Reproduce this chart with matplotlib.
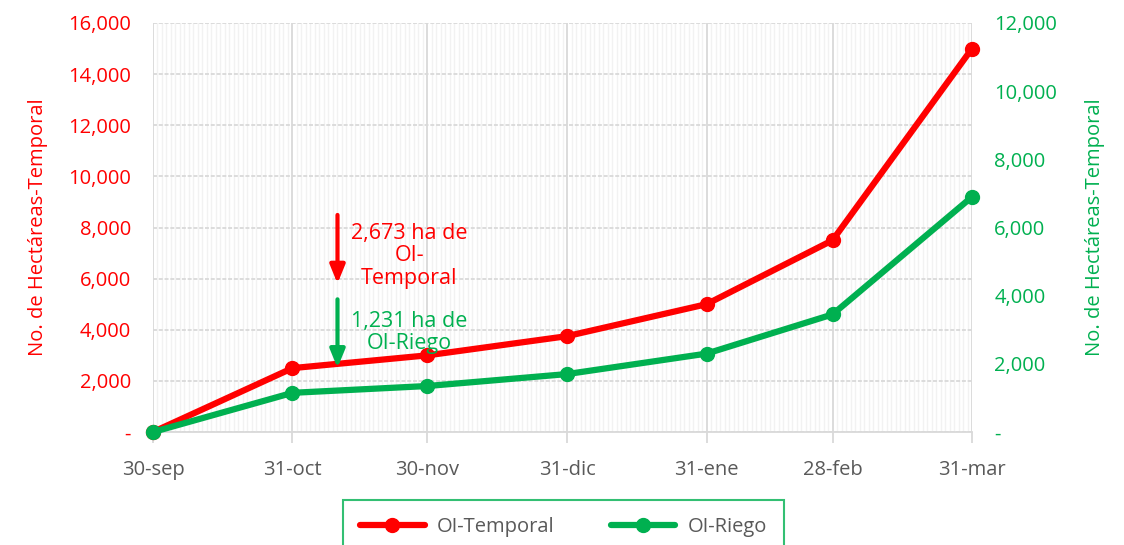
import matplotlib.pyplot as plt
import matplotlib.dates as mdates
from matplotlib.ticker import FuncFormatter, MultipleLocator
import datetime as dt

plt.rcParams['font.family'] = ['Open Sans', 'DejaVu Sans']

# data
fechas = ['2020-09-30', '2020-10-31', '2020-11-30', '2020-12-31',
          '2021-01-31', '2021-02-28', '2021-03-31']
etiquetas = ['30-sep', '31-oct', '30-nov', '31-dic', '31-ene', '28-feb', '31-mar']
temporal = [0, 2500, 3000, 3750, 5000, 7500, 15000]
riego = [0, 1150, 1350, 1700, 2300, 3450, 6900]

nota_fecha = '2020-11-10'
nota_temporal = '2,673 ha de\nOI-\nTemporal'
nota_riego = '1,231 ha de\nOI-Riego'

RED = '#FF0000'
GREEN = '#00B050'
GREY = '#595959'

x = [dt.datetime.strptime(f, '%Y-%m-%d') for f in fechas]
xn = mdates.date2num(x)

fig = plt.figure(figsize=(11.24, 5.45), dpi=100)
ax = fig.add_axes([0.1361, 0.2073, 0.7287, 0.7505])
ax2 = ax.twinx()

def miles(v, pos):
    if v == 0:
        return '-'
    return '{:,.0f}'.format(v)

# grid
ax.set_xlim(xn[0], xn[-1])
ax.set_ylim(0, 16000)
ax2.set_ylim(0, 12000)
ax.set_xticks(xn)
ax.set_xticklabels(etiquetas)
ax.xaxis.set_minor_locator(MultipleLocator(1))
ax.yaxis.set_major_locator(MultipleLocator(2000))
ax2.yaxis.set_major_locator(MultipleLocator(2000))
ax.yaxis.set_major_formatter(FuncFormatter(miles))
ax2.yaxis.set_major_formatter(FuncFormatter(miles))

ax.grid(which='minor', axis='x', color='#F2F2F2', lw=1.0)
ax.grid(which='major', axis='x', color='#D9D9D9', lw=1.3)
ax.grid(which='major', axis='y', color='#D9D9D9', lw=1.3, linestyle=(0, (2.2, 1.0)))
ax.set_axisbelow(True)

for a in (ax, ax2):
    for s in a.spines.values():
        s.set_visible(False)
ax.spines['bottom'].set_visible(True)
ax.spines['bottom'].set_color('#D9D9D9')
ax.spines['bottom'].set_linewidth(1.3)

ax.tick_params(axis='x', which='major', length=8, color='#D9D9D9', width=1.3,
               labelsize=14.5, labelcolor=GREY, pad=12)
ax.tick_params(axis='x', which='minor', length=0)
ax.tick_params(axis='y', length=0, labelsize=14.5, labelcolor=RED, pad=16)
ax2.tick_params(axis='y', length=0, labelsize=14.5, labelcolor=GREEN, pad=16)

l1, = ax.plot(xn, temporal, color=RED, lw=4.5, marker='o', ms=10,
              solid_capstyle='round', label='OI-Temporal', clip_on=False)
l2, = ax2.plot(xn, riego, color=GREEN, lw=4.5, marker='o', ms=10,
               solid_capstyle='round', label='OI-Riego', clip_on=False)

ax.set_ylabel('No. de Hectáreas-Temporal', color=RED, fontsize=14.5, labelpad=14)
ax2.set_ylabel('No. de Hectáreas-Temporal', color=GREEN, fontsize=14.5, labelpad=20)

# annotations
xa = mdates.date2num(dt.datetime.strptime(nota_fecha, '%Y-%m-%d'))
xt = xa + 16
ax.annotate('', xy=(xa, 5700), xytext=(xa, 8600),
            arrowprops=dict(arrowstyle='-|>,head_width=0.45,head_length=1.1',
                            color=RED, lw=3))
ax.annotate('', xy=(xa, 2400), xytext=(xa, 5300),
            arrowprops=dict(arrowstyle='-|>,head_width=0.45,head_length=1.1',
                            color=GREEN, lw=3))
ax.text(xt, 6900, nota_temporal, color=RED, fontsize=15.5, ha='center',
        va='center', linespacing=1.1)
ax.text(xt, 3900, nota_riego, color=GREEN, fontsize=15.5, ha='center',
        va='center', linespacing=1.1)

leg = fig.legend(handles=[l1, l2], loc='upper center', ncol=2,
                 bbox_to_anchor=(0.5013, 0.083), fontsize=14.5,
                 frameon=True, fancybox=False, borderpad=0.85,
                 handlelength=3.2, handletextpad=0.6, columnspacing=2.8,
                 borderaxespad=0)
leg.get_frame().set_edgecolor(GREEN)
leg.get_frame().set_linewidth(1.5)
for t in leg.get_texts():
    t.set_color(GREY)

fig.savefig('out.png', dpi=100)
